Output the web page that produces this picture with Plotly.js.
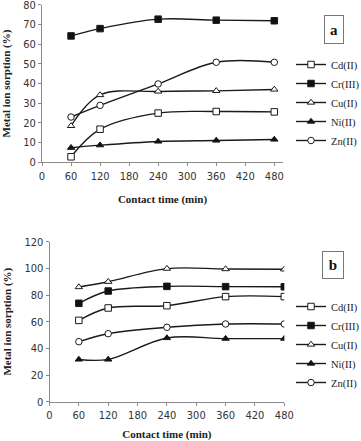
<!DOCTYPE html>
<html>
<head>
<meta charset="utf-8">
<script src="https://cdn.plot.ly/plotly-3.0.1.min.js"></script>
<style>
  html, body { margin: 0; padding: 0; background: #fff; }
  #chart { width: 361px; height: 441px; }
</style>
</head>
<body>
<div id="chart"></div>
<script>
// Contact time (min)
const time = [60, 120, 240, 360, 480];
const xTicks = [0, 60, 120, 180, 240, 300, 360, 420, 480];

// Metal ion names
const metals = ['Cd(II)', 'Cr(III)', 'Cu(II)', 'Ni(II)', 'Zn(II)'];

// Panel a: metal ion sorption (%)
const aCd = [2.8, 16.8, 25.0, 25.8, 25.6];
const aCr = [64.2, 67.9, 72.7, 72.2, 71.9];
const aCu = [18.5, 34.2, 36.0, 36.3, 37.0];
const aNi = [7.4, 8.7, 10.6, 11.1, 11.6];
const aZn = [23.0, 28.9, 39.8, 50.8, 50.8];

// Panel b: metal ion sorption (%)
const bCd = [61.0, 70.3, 72.0, 78.8, 78.8];
const bCr = [73.8, 83.0, 86.5, 86.3, 86.2];
const bCu = [86.0, 90.0, 99.8, 99.5, 99.3];
const bNi = [31.7, 31.7, 47.8, 47.3, 47.3];
const bZn = [45.0, 51.0, 55.8, 58.3, 58.3];

const W = 361, H = 441;
const px = v => v / W;
const py = v => 1 - v / H;

// marker style per metal: symbol and fill
const styles = [
  { symbol: 'square', fill: '#ffffff' },
  { symbol: 'square', fill: '#111111' },
  { symbol: 'triangle-up', fill: '#ffffff' },
  { symbol: 'triangle-up', fill: '#111111' },
  { symbol: 'circle', fill: '#ffffff' }
];

function series(values, i, xa, ya, legendId) {
  return {
    x: time, y: values, name: metals[i],
    xaxis: xa, yaxis: ya, legend: legendId,
    type: 'scatter', mode: 'lines+markers',
    line: { color: '#1a1a1a', width: 1.4, shape: 'spline', smoothing: 1 },
    marker: {
      symbol: styles[i].symbol, size: 6.5, color: styles[i].fill,
      line: { color: '#1a1a1a', width: 1 }
    }
  };
}

const data = [];
[aCd, aCr, aCu, aNi, aZn].forEach((v, i) => data.push(series(v, i, 'x', 'y', 'legend')));
[bCd, bCr, bCu, bNi, bZn].forEach((v, i) => data.push(series(v, i, 'x2', 'y2', 'legend2')));

const tickFont = { family: 'Liberation Sans Narrow, DejaVu Sans Condensed, Arial, sans-serif', size: 11, color: '#333' };
const titleFont = { family: 'Liberation Serif, Times New Roman, serif', size: 11, color: '#222', weight: 'bold' };

function xAxis(domain, range, anchor) {
  return {
    domain: domain, range: range, anchor: anchor,
    tickvals: xTicks, ticktext: xTicks.map(String),
    showgrid: false, zeroline: false,
    showline: true, linecolor: '#8a8a8a', linewidth: 1,
    ticks: 'outside', ticklen: 3, tickcolor: '#8a8a8a',
    tickfont: tickFont, ticklabeloverflow: 'allow',
    title: { text: 'Contact time (min)', font: titleFont, standoff: 13 }
  };
}
function yAxis(domain, range, dtick, anchor) {
  return {
    domain: domain, range: range, anchor: anchor, dtick: dtick, tick0: 0,
    showgrid: false, zeroline: false,
    showline: true, linecolor: '#8a8a8a', linewidth: 1,
    ticks: 'outside', ticklen: 3, tickcolor: '#8a8a8a',
    tickfont: tickFont, ticklabeloverflow: 'allow',
    title: { text: 'Metal ion sorption (%)', font: titleFont, standoff: 10 }
  };
}

const legendFont = { family: 'Liberation Serif, Times New Roman, serif', size: 10.5, color: '#222' };

const layout = {
  width: W, height: H,
  margin: { l: 0, r: 0, t: 0, b: 0, autoexpand: false },
  paper_bgcolor: '#fff', plot_bgcolor: '#fff',
  showlegend: true,
  xaxis: xAxis([px(42), px(283)], [0, 498], 'y'),
  yaxis: yAxis([py(162.3), py(4.8)], [0, 80], 10, 'x'),
  xaxis2: xAxis([px(49.5), px(284.3)], [0, 480], 'y2'),
  yaxis2: yAxis([py(401.7), py(241.7)], [0, 120], 20, 'x2'),
  legend: {
    x: px(291), y: py(50), xanchor: 'left', yanchor: 'top',
    font: legendFont, bgcolor: 'rgba(0,0,0,0)', itemwidth: 30
  },
  legend2: {
    x: px(291), y: py(292), xanchor: 'left', yanchor: 'top',
    font: legendFont, bgcolor: 'rgba(0,0,0,0)', itemwidth: 30
  },
  annotations: [
    {
      text: 'a', xref: 'paper', yref: 'paper', x: px(334), y: py(29.5),
      xanchor: 'center', yanchor: 'middle', showarrow: false,
      font: { family: 'Liberation Serif, serif', size: 15, color: '#111', weight: 'bold' },
      bordercolor: '#777', borderwidth: 1, width: 16, height: 25, bgcolor: '#fff'
    },
    {
      text: 'b', xref: 'paper', yref: 'paper', x: px(333), y: py(264.5),
      xanchor: 'center', yanchor: 'middle', showarrow: false,
      font: { family: 'Liberation Serif, serif', size: 15, color: '#111', weight: 'bold' },
      bordercolor: '#777', borderwidth: 1, width: 18, height: 24, bgcolor: '#fff'
    }
  ]
};

Plotly.newPlot('chart', data, layout, { displayModeBar: false, staticPlot: true });
</script>
</body>
</html>
